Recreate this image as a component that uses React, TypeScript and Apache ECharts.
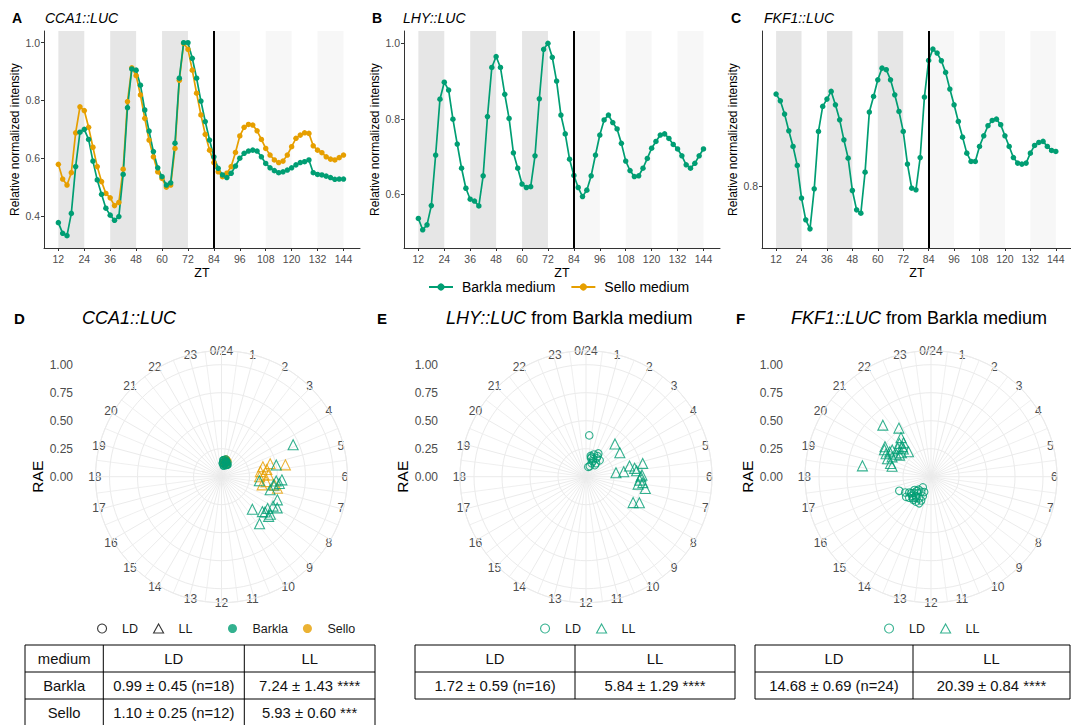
import React, { useEffect, useRef } from "react";
import * as echarts from "echarts";

const FONT = '"Liberation Sans", Arial, Helvetica, sans-serif';
const TFONT = '"Liberation Sans", Arial, sans-serif';
const GREEN = "#009E73";
const ORANGE = "#E69F00";
const GRID_GRAY = "#ebebeb";
const TICK_GRAY = "#4d4d4d";

// ---------- time-course data (ZT hours) ----------
const ZT = [12, 14, 16, 18, 20, 22, 24, 26, 28, 30, 32, 34, 36, 38, 40, 42, 44, 46, 48, 50, 52, 54, 56, 58, 60, 62, 64, 66, 68, 70, 72, 74, 76, 78, 80, 82, 84, 86, 88, 90, 92, 94, 96, 98, 100, 102, 104, 106, 108, 110, 112, 114, 116, 118, 120, 122, 124, 126, 128, 130, 132, 134, 136, 138, 140, 142, 144];
const ZT_TICKS = [12, 24, 36, 48, 60, 72, 84, 96, 108, 120, 132, 144];
const DARK_NIGHTS = [[12, 24], [36, 48], [60, 72]];
const SUBJECTIVE_NIGHTS = [[84, 96], [108, 120], [132, 144]];
const LL_START = 84;

const CCA1_BARKLA = [0.377, 0.34, 0.332, 0.409, 0.571, 0.69, 0.70, 0.665, 0.59, 0.525, 0.475, 0.427, 0.403, 0.385, 0.398, 0.544, 0.775, 0.909, 0.905, 0.853, 0.767, 0.694, 0.623, 0.567, 0.536, 0.507, 0.515, 0.652, 0.877, 1.0, 1.0, 0.946, 0.877, 0.798, 0.727, 0.663, 0.605, 0.565, 0.542, 0.533, 0.548, 0.573, 0.60, 0.617, 0.625, 0.628, 0.625, 0.605, 0.582, 0.567, 0.557, 0.55, 0.553, 0.559, 0.567, 0.577, 0.585, 0.588, 0.594, 0.55, 0.544, 0.542, 0.538, 0.533, 0.527, 0.528, 0.528];
const CCA1_SELLO = [0.579, 0.528, 0.507, 0.55, 0.688, 0.778, 0.765, 0.707, 0.638, 0.571, 0.519, 0.478, 0.463, 0.436, 0.447, 0.562, 0.796, 0.913, 0.886, 0.819, 0.738, 0.663, 0.605, 0.553, 0.53, 0.50, 0.507, 0.634, 0.87, 0.998, 0.977, 0.905, 0.825, 0.75, 0.683, 0.628, 0.585, 0.553, 0.536, 0.548, 0.571, 0.62, 0.677, 0.707, 0.717, 0.715, 0.695, 0.665, 0.634, 0.611, 0.594, 0.585, 0.59, 0.611, 0.64, 0.669, 0.68, 0.688, 0.686, 0.643, 0.628, 0.619, 0.605, 0.597, 0.594, 0.602, 0.611];
const LHY_BARKLA = [0.536, 0.506, 0.519, 0.57, 0.704, 0.852, 0.897, 0.876, 0.799, 0.733, 0.669, 0.616, 0.587, 0.582, 0.569, 0.649, 0.806, 0.936, 0.965, 0.936, 0.865, 0.801, 0.71, 0.669, 0.627, 0.618, 0.62, 0.702, 0.853, 0.984, 1.0, 0.963, 0.9, 0.81, 0.76, 0.693, 0.65, 0.618, 0.594, 0.611, 0.649, 0.704, 0.757, 0.797, 0.81, 0.79, 0.773, 0.735, 0.688, 0.663, 0.647, 0.649, 0.669, 0.695, 0.722, 0.74, 0.757, 0.76, 0.748, 0.732, 0.72, 0.702, 0.678, 0.669, 0.682, 0.702, 0.72];
const FKF1_BARKLA = [0.8826, 0.8766, 0.8647, 0.8498, 0.8358, 0.8188, 0.7896, 0.7702, 0.7621, 0.7979, 0.8492, 0.8716, 0.8781, 0.885, 0.873, 0.8596, 0.8417, 0.8253, 0.7964, 0.7791, 0.7761, 0.8128, 0.8665, 0.8805, 0.8954, 0.9058, 0.9044, 0.8954, 0.882, 0.8671, 0.8492, 0.82, 0.7985, 0.797, 0.8259, 0.8799, 0.9127, 0.9228, 0.9193, 0.9124, 0.902, 0.8871, 0.873, 0.8581, 0.8441, 0.8298, 0.8224, 0.8224, 0.8358, 0.8453, 0.8543, 0.859, 0.8602, 0.8552, 0.8453, 0.8358, 0.8259, 0.8209, 0.82, 0.8209, 0.8298, 0.8367, 0.8394, 0.8403, 0.8358, 0.8322, 0.8313];

// ---------- phase / RAE data: [phase (h), RAE] ----------
const D_BARKLA_LD = [[0.8, 0.12], [1.2, 0.14], [0.5, 0.13], [1.0, 0.15], [1.4, 0.11], [0.9, 0.16], [0.3, 0.12], [1.5, 0.14], [1.1, 0.13], [0.7, 0.1], [0.6, 0.15], [1.8, 0.12], [1.0, 0.14], [1.3, 0.13], [0.9, 0.11], [0.4, 0.15], [1.6, 0.12], [1.0, 0.14]];
const D_SELLO_LD = [[1.1, 0.13], [1.4, 0.15], [0.8, 0.12], [1.2, 0.14], [1.0, 0.16], [1.3, 0.13], [0.9, 0.15], [1.5, 0.12], [1.1, 0.14], [0.7, 0.13], [1.2, 0.15], [1.0, 0.14]];
const D_BARKLA_LL = [[4.4, 0.70], [5.2, 0.50], [6.4, 0.34], [6.3, 0.49], [6.2, 0.54], [6.45, 0.52], [7.0, 0.45], [7.5, 0.54], [7.98, 0.53], [7.95, 0.57], [9.1, 0.40], [8.7, 0.48], [8.3, 0.50], [8.67, 0.55], [8.5, 0.55], [9.4, 0.54], [8.6, 0.50], [6.6, 0.47]];
const D_SELLO_LL = [[5.3, 0.58], [5.0, 0.45], [5.1, 0.38], [5.5, 0.35], [5.4, 0.41], [5.85, 0.38], [5.86, 0.42], [6.76, 0.37], [6.42, 0.40], [6.78, 0.51], [6.6, 0.48], [6.0, 0.34]];
const E_LD = [[0.3, 0.37], [1.86, 0.235], [1.3, 0.21], [0.85, 0.19], [1.0, 0.17], [1.5, 0.17], [2.0, 0.19], [1.5, 0.13], [2.46, 0.15], [0.88, 0.09], [1.33, 0.10], [2.5, 0.13], [2.66, 0.19], [1.6, 0.15], [1.96, 0.21], [1.05, 0.18]];
const E_LL = [[2.77, 0.39], [3.65, 0.37], [5.5, 0.27], [5.5, 0.34], [5.08, 0.40], [5.35, 0.44], [5.12, 0.52], [5.55, 0.455], [5.89, 0.50], [6.24, 0.48], [6.4, 0.51], [6.54, 0.47], [6.75, 0.54], [7.92, 0.48], [7.73, 0.53], [6.0, 0.49]];
const F_LD = [[16.4, 0.31], [15.4, 0.286], [15.35, 0.23], [14.7, 0.25], [14.07, 0.26], [13.9, 0.22], [14.6, 0.19], [14.5, 0.12], [14.2, 0.16], [15.4, 0.19], [15.07, 0.27], [14.5, 0.22], [14.9, 0.16], [13.5, 0.23], [15.9, 0.27], [15.1, 0.21], [14.3, 0.23], [14.5, 0.26], [13.5, 0.19], [15.6, 0.24], [13.6, 0.26], [15.0, 0.18], [13.6, 0.15], [15.0, 0.24]];
const F_LL = [[21.13, 0.63], [21.77, 0.52], [21.5, 0.44], [21.1, 0.37], [21.1, 0.41], [18.6, 0.62], [20.2, 0.49], [20.07, 0.43], [20.3, 0.42], [20.0, 0.48], [20.2, 0.37], [20.6, 0.34], [21.2, 0.30], [21.4, 0.39], [19.5, 0.42], [19.0, 0.36], [19.2, 0.38], [19.8, 0.39], [20.7, 0.39], [21.0, 0.35], [20.3, 0.34], [19.8, 0.45]];
const RAE_TICKS = [0, 0.25, 0.5, 0.75, 1.0];

// ---------- tables ----------
const TABLE_D = [
  ["medium", "LD", "LL"],
  ["Barkla", "0.99 ± 0.45 (n=18)", "7.24 ± 1.43 ****"],
  ["Sello", "1.10 ± 0.25 (n=12)", "5.93 ± 0.60 ***"],
];
const TABLE_E = [
  ["LD", "LL"],
  ["1.72 ± 0.59 (n=16)", "5.84 ± 1.29 ****"],
];
const TABLE_F = [
  ["LD", "LL"],
  ["14.68 ± 0.69 (n=24)", "20.39 ± 0.84 ****"],
];

function text(x: number, y: number, t: string, extra: any = {}) {
  return {
    type: "text",
    x,
    y,
    silent: true,
    style: {
      text: t,
      fill: "#000",
      fontFamily: FONT,
      fontSize: 14,
      align: "left",
      verticalAlign: "middle",
      textAlign: "left",
      textVerticalAlign: "middle",
      ...extra,
    },
  };
}

function tableGraphics(xs: number[], ys: number[], rows: string[][]) {
  const els: any[] = [];
  for (const y of ys) {
    els.push({ type: "line", silent: true, shape: { x1: xs[0], y1: y, x2: xs[xs.length - 1], y2: y }, style: { stroke: "#000", lineWidth: 1 } });
  }
  for (const x of xs) {
    els.push({ type: "line", silent: true, shape: { x1: x, y1: ys[0], x2: x, y2: ys[ys.length - 1] }, style: { stroke: "#000", lineWidth: 1 } });
  }
  rows.forEach((row, ri) => {
    row.forEach((cell, ci) => {
      const cx = (xs[ci] + xs[ci + 1]) / 2;
      const cy = (ys[ri] + ys[ri + 1]) / 2;
      els.push(text(cx, cy, cell, { align: "center", textAlign: "center", fontSize: 14.8, fontFamily: TFONT, fill: "#111" }));
    });
  });
  return els;
}

function buildOption() {
  const lineSpecs = [
    { grid: { left: 44, top: 31, width: 316, height: 217 }, yMin: 0.2892, yMax: 1.0405, yTicks: [0.4, 0.6, 0.8, 1.0], series: [{ name: "Sello medium", data: CCA1_SELLO, color: ORANGE }, { name: "Barkla medium", data: CCA1_BARKLA, color: GREEN }] },
    { grid: { left: 404, top: 31, width: 316, height: 217 }, yMin: 0.4577, yMax: 1.0326, yTicks: [0.6, 0.8, 1.0], series: [{ name: "Barkla medium", data: LHY_BARKLA, color: GREEN }] },
    { grid: { left: 762, top: 31, width: 310, height: 217 }, yMin: 0.745, yMax: 0.939, yTicks: [0.8], series: [{ name: "Barkla medium", data: FKF1_BARKLA, color: GREEN }] },
  ];
  const polarSpecs = [
    { center: [221.5, 476.7], labelLeft: 75 },
    { center: [586, 476.7], labelLeft: 440 },
    { center: [931, 476.7], labelLeft: 785 },
  ];
  const R = 126; // outer ring = RAE 1.125
  const RMAX = 1.125;

  const grid: any[] = [];
  const xAxis: any[] = [];
  const yAxis: any[] = [];
  const series: any[] = [];

  lineSpecs.forEach((sp, i) => {
    grid.push({ ...sp.grid, containLabel: false, outerBoundsMode: "none" });
    xAxis.push({
      gridIndex: i,
      type: "value",
      min: 5.35,
      max: 151.65,
      name: "ZT",
      nameLocation: "middle",
      nameGap: 18,
      nameTextStyle: { fontSize: 12.5, color: "#000", fontFamily: FONT, verticalAlign: "top" },
      axisLine: { show: true, onZero: false, lineStyle: { color: "#333", width: 1 } },
      axisTick: { show: true, length: 3, customValues: ZT_TICKS, lineStyle: { color: "#333" } },
      axisLabel: { customValues: ZT_TICKS, formatter: (v: number) => String(v), fontSize: 10.5, color: TICK_GRAY, margin: 5, fontFamily: FONT },
      splitLine: { show: false },
    });
    yAxis.push({
      gridIndex: i,
      type: "value",
      min: sp.yMin,
      max: sp.yMax,
      name: "Relative normalized intensity",
      nameLocation: "middle",
      nameGap: 23,
      nameTextStyle: { fontSize: 12, color: "#000", fontFamily: FONT },
      axisLine: { show: true, onZero: false, lineStyle: { color: "#333", width: 1 } },
      axisTick: { show: true, length: 3, customValues: sp.yTicks, lineStyle: { color: "#333" } },
      axisLabel: { customValues: sp.yTicks, formatter: (v: number) => v.toFixed(1), fontSize: 10.5, color: TICK_GRAY, margin: 4, fontFamily: FONT },
      splitLine: { show: false },
    });
    sp.series.forEach((s, k) => {
      const ser: any = {
        type: "line",
        name: s.name,
        xAxisIndex: i,
        yAxisIndex: i,
        data: ZT.map((t, j) => [t, s.data[j]]),
        symbol: "circle",
        symbolSize: 5.5,
        showSymbol: true,
        showAllSymbol: true,
        color: s.color,
        itemStyle: { color: s.color },
        lineStyle: { color: s.color, width: 1.7 },
        z: 3,
      };
      if (k === 0) {
        ser.markArea = {
          silent: true,
          z: 1,
          data: [
            ...DARK_NIGHTS.map(([a, b]) => [{ xAxis: a, itemStyle: { color: "#e6e6e6" } }, { xAxis: b }]),
            ...SUBJECTIVE_NIGHTS.map(([a, b]) => [{ xAxis: a, itemStyle: { color: "#f7f7f7" } }, { xAxis: b }]),
          ],
        };
        ser.markLine = {
          silent: true,
          symbol: ["none", "none"],
          label: { show: false },
          lineStyle: { color: "#000", width: 2, type: "solid" },
          data: [{ xAxis: LL_START }],
        };
      }
      series.push(ser);
    });
  });

  // radial (RAE) label axes drawn beside each polar plot
  polarSpecs.forEach((p, i) => {
    const gi = 3 + i;
    grid.push({ left: p.labelLeft, top: p.center[1] - R, width: 1, height: 2 * R, containLabel: false, outerBoundsMode: "none" });
    xAxis.push({ gridIndex: gi, type: "value", show: false });
    yAxis.push({
      gridIndex: gi,
      type: "value",
      min: -RMAX,
      max: RMAX,
      position: "left",
      name: "RAE",
      nameLocation: "middle",
      nameGap: 29,
      nameTextStyle: { fontSize: 15.5, color: "#000", fontFamily: FONT },
      axisLine: { show: false },
      axisTick: { show: false },
      splitLine: { show: false },
      axisLabel: { customValues: RAE_TICKS, formatter: (v: number) => v.toFixed(2), fontSize: 12, color: TICK_GRAY, margin: 2, fontFamily: FONT },
    });
  });

  const polar = polarSpecs.map((p) => ({ center: p.center, radius: R }));
  const angleAxis = polarSpecs.map((_, i) => ({
    polarIndex: i,
    type: "value",
    min: 0,
    max: 24,
    interval: 1,
    startAngle: 90,
    clockwise: true,
    axisLine: { show: true, lineStyle: { color: GRID_GRAY, width: 1 } },
    axisTick: { show: false },
    minorTick: { show: false, splitNumber: 2 },
    axisLabel: {
      formatter: (v: number) => (v === 0 ? "0/24" : v === 24 ? "" : String(v)),
      color: TICK_GRAY,
      fontSize: 12,
      margin: -6,
      fontFamily: FONT,
    },
    splitLine: { show: true, lineStyle: { color: GRID_GRAY, width: 1 } },
    minorSplitLine: { show: true, lineStyle: { color: GRID_GRAY, width: 0.8 } },
  }));
  const radiusAxis = polarSpecs.map((_, i) => ({
    polarIndex: i,
    type: "value",
    min: 0,
    max: RMAX,
    interval: 0.25,
    axisLine: { show: false },
    axisTick: { show: false },
    axisLabel: { show: false },
    splitLine: { show: true, lineStyle: { color: GRID_GRAY, width: 1 } },
  }));

  const hollow = (c: string) => ({ color: "rgba(0,0,0,0)", borderColor: c, borderWidth: 1.1 });
  const polarSeries = [
    { name: "D Barkla LD", pi: 0, data: D_BARKLA_LD, symbol: "circle", size: 7, c: GREEN },
    { name: "D Sello LD", pi: 0, data: D_SELLO_LD, symbol: "circle", size: 7, c: ORANGE },
    { name: "D Barkla LD ", pi: 0, data: D_BARKLA_LD, symbol: "circle", size: 7, c: GREEN },
    { name: "D Sello LL", pi: 0, data: D_SELLO_LL, symbol: "triangle", size: 10, c: ORANGE },
    { name: "D Barkla LL", pi: 0, data: D_BARKLA_LL, symbol: "triangle", size: 10, c: GREEN },
    { name: "E-LD", pi: 1, data: E_LD, symbol: "circle", size: 7.5, c: GREEN },
    { name: "E-LL", pi: 1, data: E_LL, symbol: "triangle", size: 10, c: GREEN },
    { name: "F-LD", pi: 2, data: F_LD, symbol: "circle", size: 7.5, c: GREEN },
    { name: "F-LL", pi: 2, data: F_LL, symbol: "triangle", size: 10, c: GREEN },
  ];
  polarSeries.forEach((s) => {
    series.push({
      type: "scatter",
      name: s.name,
      coordinateSystem: "polar",
      polarIndex: s.pi,
      symbol: s.symbol,
      symbolSize: s.size,
      itemStyle: hollow(s.c),
      data: s.data.map(([h, r]) => [r, h]),
      z: 4,
    });
  });
  // legend-only entries for panel D
  const dummy = [
    { name: "D-LD", symbol: "circle", style: hollow("#000") },
    { name: "D-LL", symbol: "triangle", style: hollow("#000") },
    { name: "D-Barkla", symbol: "circle", style: { color: GREEN } },
    { name: "D-Sello", symbol: "circle", style: { color: ORANGE } },
  ];
  dummy.forEach((d) => {
    series.push({ type: "scatter", name: d.name, coordinateSystem: "polar", polarIndex: 0, symbol: d.symbol, itemStyle: d.style, data: [] });
  });

  const legendText = { fontSize: 12.5, color: "#1a1a1a", fontFamily: FONT, padding: [0, 0, 0, 10] };
  const strip = (n: string) => n.slice(2);
  const smallLegend = (left: number, data: any[]) => ({
    left,
    top: 617,
    orient: "horizontal",
    itemWidth: 10,
    itemHeight: 9,
    itemGap: 15,
    symbolKeepAspect: true,
    selectedMode: false,
    formatter: strip,
    textStyle: legendText,
    data,
  });
  const legend = [
    {
      left: 423,
      top: 275,
      orient: "horizontal",
      itemWidth: 24,
      itemHeight: 9,
      itemGap: 15,
      selectedMode: false,
      data: ["Barkla medium", "Sello medium"],
      textStyle: { fontSize: 14, color: "#000", fontFamily: FONT, padding: [0, 0, 0, 4] },
    },
    smallLegend(92, [
      { name: "D-LD", icon: "circle", itemStyle: hollow("#000") },
      { name: "D-LL", icon: "triangle", itemStyle: hollow("#000") },
    ]),
    smallLegend(223, [
      { name: "D-Barkla", icon: "circle", itemStyle: { color: GREEN } },
      { name: "D-Sello", icon: "circle", itemStyle: { color: ORANGE } },
    ]),
    smallLegend(535, [
      { name: "E-LD", icon: "circle", itemStyle: hollow(GREEN) },
      { name: "E-LL", icon: "triangle", itemStyle: hollow(GREEN) },
    ]),
    smallLegend(879, [
      { name: "F-LD", icon: "circle", itemStyle: hollow(GREEN) },
      { name: "F-LL", icon: "triangle", itemStyle: hollow(GREEN) },
    ]),
  ];

  const bold = { fontWeight: "bold", fontSize: 14 };
  const ital = { fontStyle: "italic", fontSize: 14 };
  const bigRich = (gene: string, rest: string) => ({
    text: rest ? `{i|${gene}} ${rest}` : `{i|${gene}}`,
    fontSize: 18,
    rich: { i: { fontStyle: "italic", fontSize: 18, fontFamily: FONT, fill: "#000" } },
  });

  const graphic = [
    text(12, 18, "A", bold),
    text(45, 18, "CCA1::LUC", ital),
    text(372, 18, "B", bold),
    text(403, 18, "LHY::LUC", ital),
    text(731, 18, "C", bold),
    text(764, 18, "FKF1::LUC", ital),
    text(14, 318, "D", { fontWeight: "bold", fontSize: 15 }),
    text(82, 318, "", bigRich("CCA1::LUC", "")),
    text(377, 318, "E", { fontWeight: "bold", fontSize: 15 }),
    text(446, 318, "", bigRich("LHY::LUC", "from Barkla medium")),
    text(736, 318, "F", { fontWeight: "bold", fontSize: 15 }),
    text(791, 318, "", bigRich("FKF1::LUC", "from Barkla medium")),
    ...tableGraphics([25, 103.3, 244.3, 375], [645, 672, 699, 726], TABLE_D),
    ...tableGraphics([415, 575, 735], [645, 672, 699], TABLE_E),
    ...tableGraphics([755, 913, 1070], [645, 672, 699], TABLE_F),
  ];

  return {
    animation: false,
    backgroundColor: "#fff",
    textStyle: { fontFamily: FONT },
    grid,
    xAxis,
    yAxis,
    polar,
    angleAxis,
    radiusAxis,
    legend,
    series,
    graphic,
  };
}

export default function App() {
  const ref = useRef<HTMLDivElement>(null);
  useEffect(() => {
    if (!ref.current) return;
    const chart = echarts.init(ref.current, null, { renderer: "svg" });
    chart.setOption(buildOption() as any);
    return () => chart.dispose();
  }, []);
  return <div ref={ref} style={{ position: "absolute", left: 0, top: 0, width: 1071, height: 725, background: "#fff" }} />;
}
